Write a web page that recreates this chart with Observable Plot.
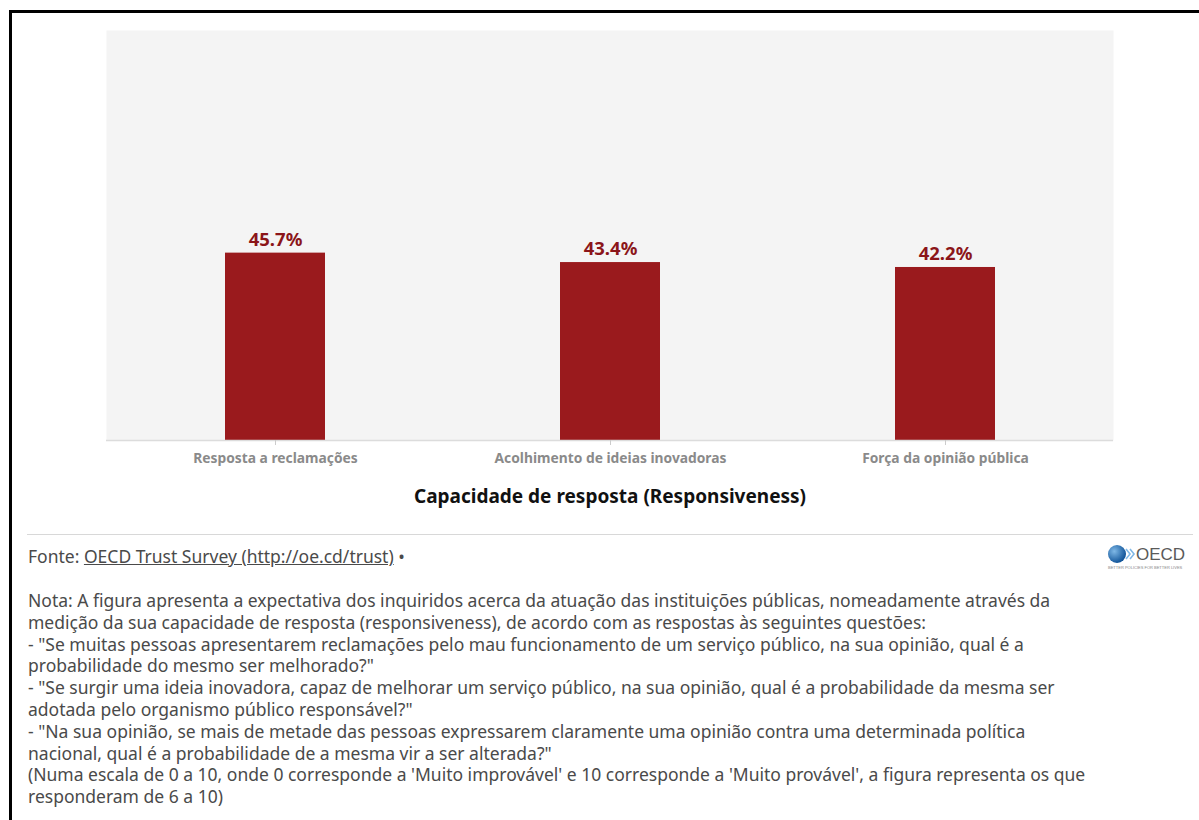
<!DOCTYPE html>
<html>
<head>
<meta charset="utf-8">
<script src="https://cdn.jsdelivr.net/npm/d3@7"></script>
<script src="https://cdn.jsdelivr.net/npm/@observablehq/plot@0.6"></script>
<style>
  html, body { margin: 0; padding: 0; background: #fff; overflow: hidden; }
  body { width: 1199px; height: 820px; position: relative; font-family: "Noto Sans", sans-serif; }
  #frame { position: absolute; left: 9px; top: 10px; width: 1300px; height: 900px; border-top: 3px solid #000; border-left: 3px solid #000; }
  #chart { position: absolute; left: 0; top: 0; }
  #chart svg { font-family: "Noto Sans", sans-serif; }
  g[aria-label="x-axis tick label"] text { font-size: 13.8px; font-weight: bold; fill: #8a8a8a; }
  g[aria-label="x-axis label"] text { font-size: 19px; font-weight: bold; fill: #111; }
  #hr { position: absolute; left: 27px; top: 534px; width: 1166px; border-top: 1px solid #d8d8d8; }
  #fonte { position: absolute; left: 28px; top: 544px; font-size: 17.5px; color: #4a4a4a; }
  #fonte a { color: #4a4a4a; text-decoration: underline; }
  #nota { position: absolute; left: 28px; top: 590px; font-size: 17.5px; line-height: 21.8px; color: #4a4a4a; white-space: nowrap; }
  #logo { position: absolute; left: 1106px; top: 543px; width: 90px; height: 30px; }
</style>
</head>
<body>
<div id="frame"></div>
<div id="chart"></div>
<div id="hr"></div>
<div id="fonte">Fonte: <a>OECD Trust Survey (http://oe.cd/trust)</a> •</div>
<svg id="logo" viewBox="0 0 90 30">
  <defs>
    <radialGradient id="gl" cx="0.35" cy="0.35" r="0.7">
      <stop offset="0" stop-color="#7fb8e6"/>
      <stop offset="1" stop-color="#0b4f95"/>
    </radialGradient>
  </defs>
  <circle cx="11" cy="11" r="9" fill="url(#gl)"/>
  <path d="M20 6 l4 5 l-4 5 M24 6 l4 5 l-4 5" stroke="#7fb8e6" stroke-width="1.6" fill="none"/>
  <text x="30" y="17" font-family="Liberation Sans, sans-serif" font-size="17" fill="#5a5a5a">OECD</text>
  <text x="2" y="26" font-family="Liberation Sans, sans-serif" font-size="4" fill="#888">BETTER POLICIES FOR BETTER LIVES</text>
</svg>
<div id="nota">Nota: A figura apresenta a expectativa dos inquiridos acerca da atuação das instituições públicas, nomeadamente através da<br>medição da sua capacidade de resposta (responsiveness), de acordo com as respostas às seguintes questões:<br>- "Se muitas pessoas apresentarem reclamações pelo mau funcionamento de um serviço público, na sua opinião, qual é a<br>probabilidade do mesmo ser melhorado?"<br>- "Se surgir uma ideia inovadora, capaz de melhorar um serviço público, na sua opinião, qual é a probabilidade da mesma ser<br>adotada pelo organismo público responsável?"<br>- "Na sua opinião, se mais de metade das pessoas expressarem claramente uma opinião contra uma determinada política<br>nacional, qual é a probabilidade de a mesma vir a ser alterada?"<br>(Numa escala de 0 a 10, onde 0 corresponde a 'Muito improvável' e 10 corresponde a 'Muito provável', a figura representa os que<br>responderam de 6 a 10)</div>
<script>
const categories = ["Resposta a reclamações", "Acolhimento de ideias inovadoras", "Força da opinião pública"];
const values = [45.7, 43.4, 42.2];
const valueLabels = ["45.7%", "43.4%", "42.2%"];
const chartTitle = "Capacidade de resposta (Responsiveness)";

const data = categories.map((c, i) => ({category: c, value: values[i], label: valueLabels[i]}));

const chart = Plot.plot({
  width: 1199,
  height: 520,
  marginLeft: 106,
  marginRight: 86,
  marginTop: 30,
  marginBottom: 80,
  x: {domain: categories, paddingInner: 0.702, paddingOuter: 0.351},
  y: {domain: [0, 100], axis: null},
  marks: [
    Plot.frame({fill: "#f4f4f4", stroke: null}),
    Plot.barY(data, {x: "category", y: "value", fill: "#9a1a1d"}),
    Plot.ruleY([0], {stroke: "#dcdcdc", strokeWidth: 1.5}),
    Plot.axisX({tickSize: 5, tickPadding: 8, stroke: "#ccc", label: chartTitle, labelAnchor: "center", labelOffset: 62}),
    Plot.text(data, {x: "category", y: "value", text: "label", dy: -13, fill: "#8b1519", fontSize: 18.5, fontWeight: "bold"})
  ]
});
document.getElementById("chart").appendChild(chart);
</script>
</body>
</html>
